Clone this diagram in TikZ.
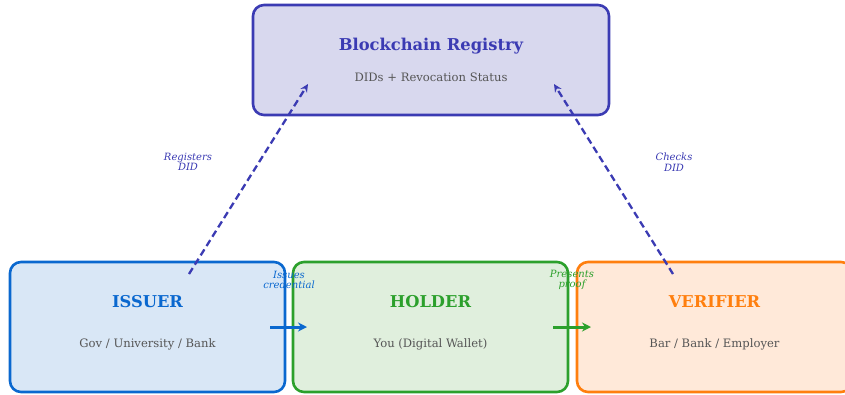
\documentclass[tikz,border=0pt]{standalone}
\usepackage{fontspec}
\setmainfont{DejaVu Serif}
\usetikzlibrary{arrows.meta}
\definecolor{regB}{HTML}{3B3BB3}
\definecolor{regF}{HTML}{D8D8EE}
\definecolor{issB}{HTML}{0A68CF}
\definecolor{issF}{HTML}{D9E7F6}
\definecolor{holB}{HTML}{2CA02C}
\definecolor{holF}{HTML}{E0EFDD}
\definecolor{verB}{HTML}{FF7F0E}
\definecolor{verF}{HTML}{FFE9D9}
\definecolor{subG}{HTML}{555555}
\tikzset{
  box/.style={draw, line width=2.6pt, rounded corners=11pt, inner sep=0pt},
  title/.style={font=\fontsize{16.3}{19}\selectfont\bfseries, inner sep=0pt},
  sub/.style={font=\fontsize{11.6}{14}\selectfont, text=subG, inner sep=0pt},
  lbl/.style={font=\fontsize{10}{10.5}\selectfont\itshape, align=center, inner sep=0pt},
  dasharrow/.style={draw=regB, line width=2.3pt, dash pattern=on 7pt off 4pt, -{Stealth[length=8pt,width=7.5pt]}},
  flowarrow/.style={line width=3pt, -{Stealth[length=9pt,width=9pt]}}
}
\begin{document}
\begin{tikzpicture}[x=1pt,y=-1pt]
\useasboundingbox (0,0) rectangle (845,394);
% boxes
\node[box, draw=regB, fill=regF, minimum width=356pt, minimum height=110pt] (reg) at (431,60) {};
\node[box, draw=issB, fill=issF, minimum width=275pt, minimum height=130pt] (iss) at (147.5,327) {};
\node[box, draw=holB, fill=holF, minimum width=275pt, minimum height=130pt] (hol) at (430.5,327) {};
\node[box, draw=verB, fill=verF, minimum width=275pt, minimum height=130pt] (ver) at (714.5,327) {};
% texts
\node[title, text=regB] (regT) at (431,46) {Blockchain Registry};
\node[sub] (regS) at (431,77) {DIDs + Revocation Status};
\node[title, text=issB] (issT) at (147.5,302) {ISSUER};
\node[sub] (issS) at (147.5,344) {Gov / University / Bank};
\node[title, text=holB] (holT) at (430.5,302) {HOLDER};
\node[sub] (holS) at (430.5,344) {You (Digital Wallet)};
\node[title, text=verB] (verT) at (714.5,302) {VERIFIER};
\node[sub] (verS) at (714.5,344) {Bar / Bank / Employer};
% connector end points
\coordinate (a1) at (189,274);
\coordinate (a2) at (308,84);
\coordinate (b1) at (673,274);
\coordinate (b2) at (554,84);
\coordinate (c1) at (270,327);
\coordinate (c2) at (307,327);
\coordinate (d1) at (553,327);
\coordinate (d2) at (591,327);
% connectors
\draw[dasharrow] (a1) -- (a2);
\draw[dasharrow] (b1) -- (b2);
\draw[flowarrow, draw=issB] (c1) -- (c2);
\draw[flowarrow, draw=holB] (d1) -- (d2);
% labels
\node[lbl, text=regB] (l1) at (188,162) {Registers\\DID};
\node[lbl, text=regB] (l2) at (674,162) {Checks\\DID};
\node[lbl, text=issB] (l3) at (289,280) {Issues\\credential};
\node[lbl, text=holB] (l4) at (572,280) {Presents\\proof};
\end{tikzpicture}
\end{document}
